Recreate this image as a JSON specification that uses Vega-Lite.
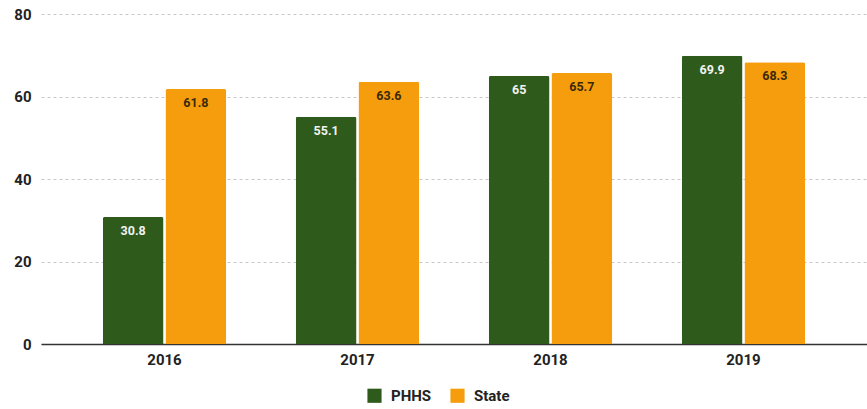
{
  "$schema": "https://vega.github.io/schema/vega-lite/v6.json",
  "width": 867,
  "height": 409,
  "autosize": {"type": "fit", "contains": "padding"},
  "padding": {"left": 13, "top": 7, "right": 0, "bottom": 42},
  "background": "white",
  "data": {
    "values": [
      {"year": "2016", "group": "PHHS", "value": 30.8},
      {"year": "2016", "group": "State", "value": 61.8},
      {"year": "2017", "group": "PHHS", "value": 55.1},
      {"year": "2017", "group": "State", "value": 63.6},
      {"year": "2018", "group": "PHHS", "value": 65},
      {"year": "2018", "group": "State", "value": 65.7},
      {"year": "2019", "group": "PHHS", "value": 69.9},
      {"year": "2019", "group": "State", "value": 68.3}
    ]
  },
  "config": {
    "font": "Roboto",
    "view": {"stroke": null},
    "axis": {"labelFont": "Roboto", "labelFontWeight": "bold", "labelFontSize": 15, "labelColor": "#222"}
  },
  "encoding": {
    "x": {
      "field": "year",
      "type": "nominal",
      "title": null,
      "scale": {"paddingInner": 0.36, "paddingOuter": 0.32},
      "axis": {"labelAngle": 0, "ticks": false, "domain": true, "domainColor": "#333", "domainWidth": 1.5, "labelPadding": 8, "grid": false}
    },
    "xOffset": {"field": "group", "scale": {"paddingInner": 0.03}},
    "y": {
      "field": "value",
      "type": "quantitative",
      "title": null,
      "scale": {"domain": [0, 80]},
      "axis": {"values": [0, 20, 40, 60, 80], "ticks": false, "domain": false, "gridDash": [3, 3], "gridColor": "#c8c8c8", "labelPadding": 10}
    }
  },
  "layer": [
    {
      "mark": {"type": "bar", "cornerRadiusTopLeft": 2, "cornerRadiusTopRight": 2},
      "encoding": {
        "color": {
          "field": "group",
          "type": "nominal",
          "title": null,
          "scale": {"domain": ["PHHS", "State"], "range": ["#2e5a1c", "#f59d0c"]},
          "legend": {
            "orient": "none",
            "legendX": 326,
            "legendY": 374,
            "direction": "horizontal",
            "symbolType": "square",
            "symbolSize": 200,
            "symbolStrokeWidth": 0,
            "labelFontSize": 15,
            "labelFontWeight": "bold",
            "labelColor": "#222",
            "labelOffset": 9,
            "columnPadding": 18
          }
        }
      }
    },
    {
      "mark": {"type": "text", "baseline": "top", "dy": 8, "fontSize": 12.5, "fontWeight": "bold"},
      "encoding": {
        "text": {"field": "value", "type": "quantitative"},
        "color": {
          "condition": {"test": "datum.group === 'PHHS'", "value": "#f2f2f2"},
          "value": "#3a2a05"
        }
      }
    }
  ]
}
